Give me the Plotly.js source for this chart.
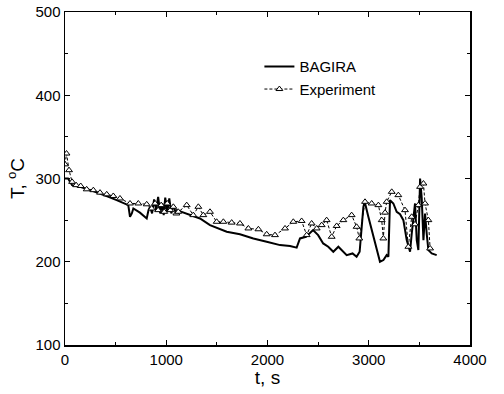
<!DOCTYPE html>
<html>
<head>
<meta charset="utf-8">
<script src="https://cdn.plot.ly/plotly-3.0.1.min.js"></script>
<style>html,body{margin:0;padding:0;background:#fff;}#chart{width:504px;height:394px;}</style>
</head>
<body>
<div id="chart"></div>
<script>
const bagiraT = [0,30,70,148,250,346,430,510,580,625,642,660,675,740,807,825,840,860,880,900,920,940,960,975,990,1010,1030,1050,1070,1090,1103,1200,1333,1432,1520,1597,1728,1860,1992,2124,2222,2288,2321,2380,2450,2500,2550,2600,2650,2700,2782,2840,2880,2910,2947,2960,2996,3046,3111,3145,3177,3194,3210,3243,3276,3309,3342,3375,3408,3424,3457,3474,3490,3507,3523,3540,3556,3573,3589,3622,3671];
const bagiraTemp = [300,300,292,290,286,282,278,274,270,268,254,258,264,259,252,262,266,258,275,262,278,258,270,256,277,260,276,258,268,260,262,258,252,244,240,236,233,228,224,220,219,217,228,230,238,232,222,218,212,218,208,210,206,212,266,272,254,230,200,202,208,206,274,270,260,257,250,226,212,233,270,226,214,300,277,226,258,233,214,210,208];

const expT = [0,15,40,70,110,155,214,280,346,412,477,543,642,724,807,856,890,920,950,980,1010,1040,1070,1100,1119,1202,1267,1317,1366,1432,1498,1564,1646,1728,1811,1910,1992,2074,2173,2255,2337,2387,2436,2486,2535,2584,2634,2683,2749,2831,2880,2907,2963,3029,3095,3128,3144,3161,3177,3227,3292,3358,3391,3424,3457,3490,3507,3540,3556,3589,3606];
const expTemp = [317,330,310,296,292,291,287,286,283,281,279,276,270,270,269,264,270,262,268,260,270,262,266,258,260,268,256,266,256,260,248,248,247,246,240,239,233,232,240,248,249,232,246,240,244,250,230,243,250,256,242,228,272,270,268,250,228,259,272,284,280,262,218,254,245,268,290,294,270,250,216];

const seriesNames = ['BAGIRA', 'Experiment'];
const xTitle = 't, s';
const yTitle = 'T, <sup>o</sup>C';

const font = 'Liberation Sans, Arial, sans-serif';

const traces = [
  {x: bagiraT, y: bagiraTemp, name: seriesNames[0], type: 'scatter', mode: 'lines',
   line: {color: '#000', width: 2}},
  {x: expT, y: expTemp, name: seriesNames[1], type: 'scatter', mode: 'lines+markers',
   line: {color: '#000', width: 1, dash: '3px,2px'},
   marker: {symbol: 'triangle-up', size: 6, color: '#fff', line: {color: '#000', width: 1}}}
];

const axisCommon = {
  showgrid: false, zeroline: false, showline: true, mirror: 'ticks',
  linecolor: '#000', linewidth: 1.5, ticks: 'inside', ticklen: 5, tickwidth: 1, tickcolor: '#000',
  tickfont: {family: font, size: 15, color: '#000'}
};

const layout = {
  width: 504, height: 394,
  margin: {l: 65, r: 34, t: 12, b: 49},
  paper_bgcolor: '#fff', plot_bgcolor: '#fff',
  showlegend: true,
  legend: {x: 0.48, y: 0.885, xanchor: 'left', yanchor: 'top', bgcolor: 'rgba(0,0,0,0)',
           font: {family: font, size: 15, color: '#000'}, tracegroupgap: 0},
  xaxis: Object.assign({}, axisCommon, {
    range: [0, 4000], dtick: 1000, tick0: 0,
    minor: {dtick: 500, ticks: 'inside', ticklen: 3, tickcolor: '#000'},
    title: {text: xTitle, font: {family: font, size: 19, color: '#000'}, standoff: 4}
  }),
  yaxis: Object.assign({}, axisCommon, {
    range: [100, 500], dtick: 100, tick0: 100,
    minor: {dtick: 50, ticks: 'inside', ticklen: 3, tickcolor: '#000'},
    title: {text: yTitle, font: {family: font, size: 19, color: '#000'}, standoff: 6}
  })
};

Plotly.newPlot('chart', traces, layout, {displayModeBar: false, staticPlot: true});
</script>
</body>
</html>
